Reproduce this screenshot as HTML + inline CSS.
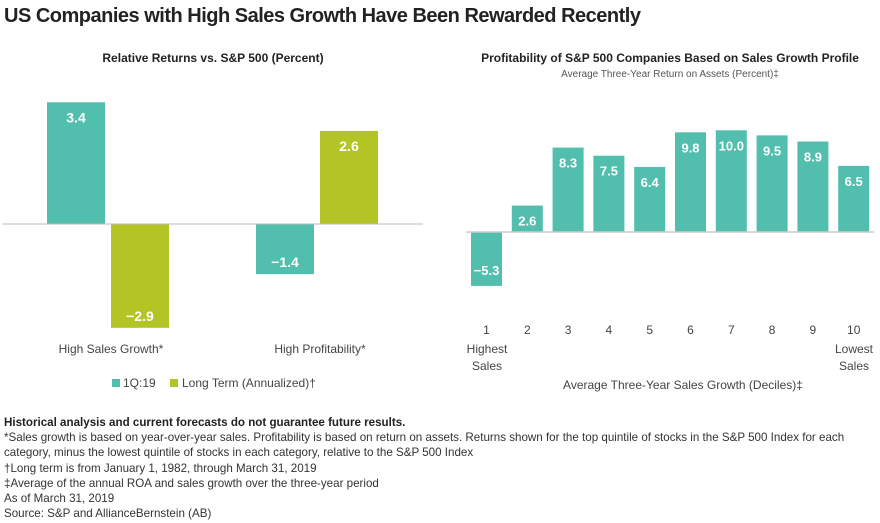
<!DOCTYPE html>
<html><head><meta charset="utf-8"><style>
body{margin:0;width:880px;height:523px;background:#fff;font-family:"Liberation Sans",sans-serif;overflow:hidden;position:relative}
.t{position:absolute;white-space:nowrap}
</style></head><body>
<div class="t" style="left:4px;top:5px;font-size:20px;font-weight:bold;color:#222;letter-spacing:-0.5px">US Companies with High Sales Growth Have Been Rewarded Recently</div>
<svg id="c" width="880" height="400" style="position:absolute;left:0;top:0" font-family="Liberation Sans, sans-serif">
<text x="213" y="62" text-anchor="middle" font-size="12" font-weight="bold" fill="#222">Relative Returns vs. S&amp;P 500 (Percent)</text>
<text x="670" y="62" text-anchor="middle" font-size="12" font-weight="bold" fill="#222">Profitability of S&amp;P 500 Companies Based on Sales Growth Profile</text>
<text x="670" y="77" text-anchor="middle" font-size="10" fill="#555">Average Three-Year Return on Assets (Percent)‡</text>
<g id="left"></g><g id="right"></g>
<line x1="3" x2="423" y1="224" y2="224" stroke="#bbb" stroke-width="1"/>
<line x1="466" x2="874" y1="232" y2="232" stroke="#ccc" stroke-width="1.5"/>
<rect x="112" y="379" width="8" height="8" fill="#52bfae"/>
<text x="123" y="387" font-size="12" fill="#444">1Q:19</text>
<rect x="170" y="379" width="8" height="8" fill="#b2c524"/>
<text x="182" y="387" font-size="12" fill="#444">Long Term (Annualized)†</text>
<text x="683" y="389" text-anchor="middle" font-size="12" fill="#444">Average Three-Year Sales Growth (Deciles)‡</text>
</svg>
<div class="t" style="left:4px;top:415px;font-size:11.6px;line-height:15.2px;color:#333">
<b style="color:#222">Historical analysis and current forecasts do not guarantee future results.</b><br>
*Sales growth is based on year-over-year sales. Profitability is based on return on assets. Returns shown for the top quintile of stocks in the S&amp;P 500 Index for each<br>
category, minus the lowest quintile of stocks in each category, relative to the S&amp;P 500 Index<br>
†Long term is from January 1, 1982, through March 31, 2019<br>
‡Average of the annual ROA and sales growth over the three-year period<br>
As of March 31, 2019<br>
Source: S&amp;P and AllianceBernstein (AB)</div>
<script>
const leftCategories=["High Sales Growth*","High Profitability*"];
const leftSeries1Q19=[3.4,-1.4];
const leftSeriesLongTerm=[-2.9,2.6];
const rightCategories=["1","2","3","4","5","6","7","8","9","10"];
const rightValues=[-5.3,2.6,8.3,7.5,6.4,9.8,10.0,9.5,8.9,6.5];
const NS="http://www.w3.org/2000/svg";
function mk(p,tag,a){const e=document.createElementNS(NS,tag);for(const k in a)e.setAttribute(k,a[k]);p.appendChild(e);return e;}
const L=document.getElementById('left'),R=document.getElementById('right');
const ly=v=>224-v*35.8;
const lx=i=>47+i*209;
const fmt=v=>(v<0?"\u2212"+Math.abs(v).toFixed(1):v.toFixed(1));
leftCategories.forEach((c,i)=>{
 [[leftSeries1Q19,'#52bfae',0],[leftSeriesLongTerm,'#b2c524',64]].forEach(([s,col,off],j)=>{
  const v=s[i],x=lx(i)+off,y0=Math.min(ly(v),224),h=Math.abs(ly(v)-224);
  const r=mk(L,'rect',{x:x,y:y0,width:58,height:h,fill:col});
  
  
  const ty=v>=0?y0+20:y0+h-7;
  const t=mk(L,'text',{x:x+29,y:ty,'text-anchor':'middle','font-size':14,'font-weight':'bold',fill:'#fff'});
  t.textContent=fmt(v);
  
  
 });
 const t=mk(L,'text',{x:lx(i)+64,y:353,'text-anchor':'middle','font-size':12,fill:'#444'});
 t.textContent=c;
 
 
});
const ry=v=>232-v*10.17;
const rx=i=>471+i*40.8;
rightCategories.forEach((c,i)=>{
 const v=rightValues[i],x=rx(i),y0=Math.min(ry(v),232),h=Math.abs(ry(v)-232);
 const r=mk(R,'rect',{x:x,y:y0,width:31,height:h,fill:'#52bfae'});
 
 
 const ty=v>=0?y0+20:y0+h-11;
 const t=mk(R,'text',{x:x+15.5,y:ty,'text-anchor':'middle','font-size':13,'font-weight':'bold',fill:'#fff'});
 t.textContent=fmt(v);
 
 
 const l=mk(R,'text',{x:x+15.5,y:334,'text-anchor':'middle','font-size':12,fill:'#444'});
 l.textContent=c;
 
 
});
[["Highest",487,353],["Sales",487,370],["Lowest",854,353],["Sales",854,370]].forEach(([s,x,y])=>{
 const t=mk(R,'text',{x:x,y:y,'text-anchor':'middle','font-size':12,fill:'#444'});
 t.textContent=s;
 
 
});
</script>
</body></html>
